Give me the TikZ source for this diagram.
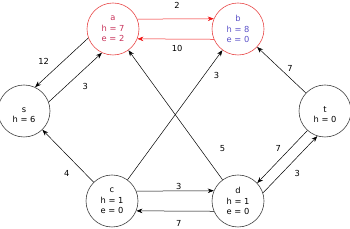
\documentclass[tikz,border=0pt]{standalone}
\usepackage{fontspec}
\setmainfont{DejaVu Sans}
\usetikzlibrary{arrows.meta}
\definecolor{edgered}{RGB}{240,20,20}
\definecolor{rimred}{RGB}{232,72,72}
\definecolor{textred}{RGB}{200,50,90}
\definecolor{textblue}{RGB}{90,80,200}

\begin{document}
\begin{tikzpicture}[x=1pt, y=1pt, line width=0.5pt, >={Stealth[length=6pt,width=4.5pt]},
  vertex/.style={circle, draw=black!75, line width=0.6pt, minimum size=52pt, inner sep=0pt,
    align=center, font=\fontsize{8.3}{10.5}\selectfont},
  hot/.style={vertex, draw=rimred},
  low/.style={vertex, text height=24pt},
  wt/.style={inner sep=0pt, text=black, font=\fontsize{8.3}{10}\selectfont}]
  \useasboundingbox (0,0) rectangle (350,229);

  % vertices
  \node[hot, text=textred] (a) at (113,200) {a\\h = 7\\e = 2};
  \node[hot, text=textblue] (b) at (238,200) {b\\h = 8\\e = 0};
  \node[low] (s) at (24,118) {s\\h = 6};
  \node[low] (t) at (325,118) {t\\h = 0};
  \node[vertex] (c) at (112,28) {c\\h = 1\\e = 0};
  \node[vertex] (d) at (238,28) {d\\h = 1\\e = 0};

  % a <-> b
  \draw[->, edgered] (a.22.6) -- (b.157.4) node[wt, midway, xshift=1.5pt, yshift=14pt] {2};
  \draw[->, edgered] (b.-157.4) -- (a.-22.6) node[wt, midway, xshift=1.5pt, yshift=-9.7pt] {10};
  % a <-> s
  \draw[->] (a.200.1) -- (s.65.3) node[wt, midway, xshift=-18pt, yshift=1pt] {12};
  \draw[->] (s.20.1) -- (a.245.3) node[wt, midway, xshift=10pt, yshift=-8.7pt] {3};
  % single arcs
  \draw[->] (c) -- (s) node[wt, midway, xshift=-1.3pt, yshift=-17.3pt] {4};
  \draw[->] (c) -- (b) node[wt, midway, xshift=41.5pt, yshift=40pt] {3};
  \draw[->] (d) -- (a) node[wt, midway, xshift=47pt, yshift=-33.3pt] {5};
  \draw[->] (t) -- (b) node[wt, midway, xshift=8.5pt, yshift=1.7pt] {7};
  % d <-> t
  \draw[->] (t.228.2) -- (d.43.8) node[wt, midway, xshift=-4pt, yshift=8.4pt] {7};
  \draw[->] (d.18.5) -- (t.253.5) node[wt, midway, xshift=7pt, yshift=-9pt] {3};
  % c <-> d
  \draw[->] (c.22.6) -- (d.157.4) node[wt, midway, xshift=3.7pt, yshift=4.3pt] {3};
  \draw[->] (d.-157.4) -- (c.-22.6) node[wt, midway, xshift=3.7pt, yshift=-12.3pt] {7};
\end{tikzpicture}
\end{document}
